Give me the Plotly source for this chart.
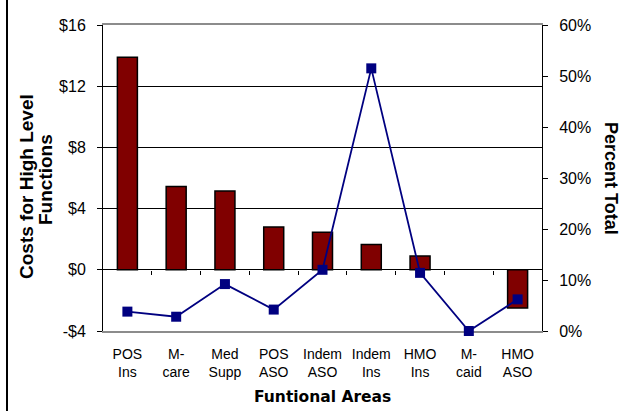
import plotly.graph_objects as go

# Functional areas (two-line category labels)
areas = ["POS<br>Ins", "M-<br>care", "Med<br>Supp", "POS<br>ASO", "Indem<br>ASO",
         "Indem<br>Ins", "HMO<br>Ins", "M-<br>caid", "HMO<br>ASO"]
# Costs for high level functions ($)
costs = [13.9, 5.45, 5.15, 2.8, 2.45, 1.65, 0.9, 0.0, -2.5]
# Percent of total (%)
pct_total = [3.8, 2.8, 9.2, 4.2, 12.0, 51.5, 11.4, 0.0, 6.2]

cost_ticks = [-4, 0, 4, 8, 12, 16]
cost_labels = ["-$4", "$0", "$4", "$8", "$12", "$16"]
pct_ticks = [0, 10, 20, 30, 40, 50, 60]

W, H = 625, 411
L, R, T, B = 103, 83, 25, 80
PW, PH = W - L - R, H - T - B
FONT = "Liberation Sans, Arial, sans-serif"

cost_range = [cost_ticks[0], cost_ticks[-1]]
n = len(areas)


def px_x(p):
    return (p - L) / PW


def px_y(p):
    return (H - B - p) / PH


fig = go.Figure()
fig.add_trace(go.Bar(
    x=list(range(n)), y=costs, width=0.41,
    marker=dict(color="#800000",
                line=dict(color="black",
                          width=[1.5 if v != 0 else 0 for v in costs])),
    xaxis="x", yaxis="y", hoverinfo="skip",
))
fig.add_trace(go.Scatter(
    x=list(range(n)), y=pct_total, mode="lines+markers",
    line=dict(color="#000080", width=1.8),
    marker=dict(symbol="square", size=10, color="#000080"),
    xaxis="x", yaxis="y2", cliponaxis=False, hoverinfo="skip",
))
# carrier for the boundary tick marks drawn along the $0 line
fig.add_trace(go.Scatter(x=[None], y=[None], xaxis="x2", yaxis="y",
                         showlegend=False, hoverinfo="skip"))

zero_pos = (0 - cost_range[0]) / (cost_range[1] - cost_range[0])

fig.update_layout(
    width=W, height=H,
    margin=dict(l=L, r=R, t=T, b=B, pad=0),
    paper_bgcolor="white", plot_bgcolor="white",
    showlegend=False,
    font=dict(family=FONT, color="black"),
    xaxis=dict(
        range=[-0.5, n - 0.5], tickmode="array",
        tickvals=list(range(n)), ticktext=areas,
        ticks="", showgrid=False, zeroline=False,
        showline=True, linecolor="#8c8c8c", linewidth=2, mirror=True,
        tickfont=dict(size=14, family=FONT), ticklabelstandoff=9,
        layer="below traces",
    ),
    xaxis2=dict(
        overlaying="x", anchor="free", position=zero_pos,
        range=[-0.5, n - 0.5],
        tickmode="array", tickvals=[i + 0.5 for i in range(n - 1)],
        ticks="outside", ticklen=4, tickcolor="black", tickwidth=1,
        showticklabels=False, showgrid=False, zeroline=False, showline=False,
    ),
    yaxis=dict(
        range=cost_range, tickmode="array",
        tickvals=cost_ticks, ticktext=cost_labels,
        showgrid=True, gridcolor="black", gridwidth=1,
        zeroline=True, zerolinecolor="black", zerolinewidth=1,
        showline=True, linecolor="black", linewidth=1,
        ticks="outside", ticklen=5, tickcolor="black",
        tickfont=dict(size=16, family=FONT), ticklabelstandoff=8,
    ),
    yaxis2=dict(
        overlaying="y", side="right", range=[0, 60],
        tickmode="array", tickvals=pct_ticks,
        ticktext=[f"{v}%" for v in pct_ticks],
        showgrid=False, zeroline=False,
        showline=True, linecolor="black", linewidth=1,
        ticks="outside", ticklen=5, tickcolor="black",
        tickfont=dict(size=16, family=FONT), ticklabelstandoff=8,
    ),
    annotations=[
        dict(text="Costs for High Level", textangle=-90,
             x=px_x(26), y=px_y(187), xref="paper", yref="paper",
             xanchor="center", yanchor="middle", showarrow=False,
             font=dict(size=19, family=FONT, weight="bold")),
        dict(text="Functions", textangle=-90,
             x=px_x(45), y=px_y(180), xref="paper", yref="paper",
             xanchor="center", yanchor="middle", showarrow=False,
             font=dict(size=19, family=FONT, weight="bold")),
        dict(text="Percent Total", textangle=90,
             x=px_x(611.5), y=px_y(178.5), xref="paper", yref="paper",
             xanchor="center", yanchor="middle", showarrow=False,
             font=dict(size=18, family=FONT, weight="bold")),
        dict(text="Funtional Areas",
             x=px_x(322), y=px_y(397), xref="paper", yref="paper",
             xanchor="center", yanchor="middle", showarrow=False,
             font=dict(size=15.5, family="DejaVu Sans, sans-serif", weight="bold")),
    ],
    shapes=[
        dict(type="line", xref="paper", yref="paper",
             x0=px_x(7), x1=px_x(7), y0=px_y(H + 5), y1=px_y(-5),
             line=dict(color="black", width=2)),
    ],
)

fig.write_html("out.html")
